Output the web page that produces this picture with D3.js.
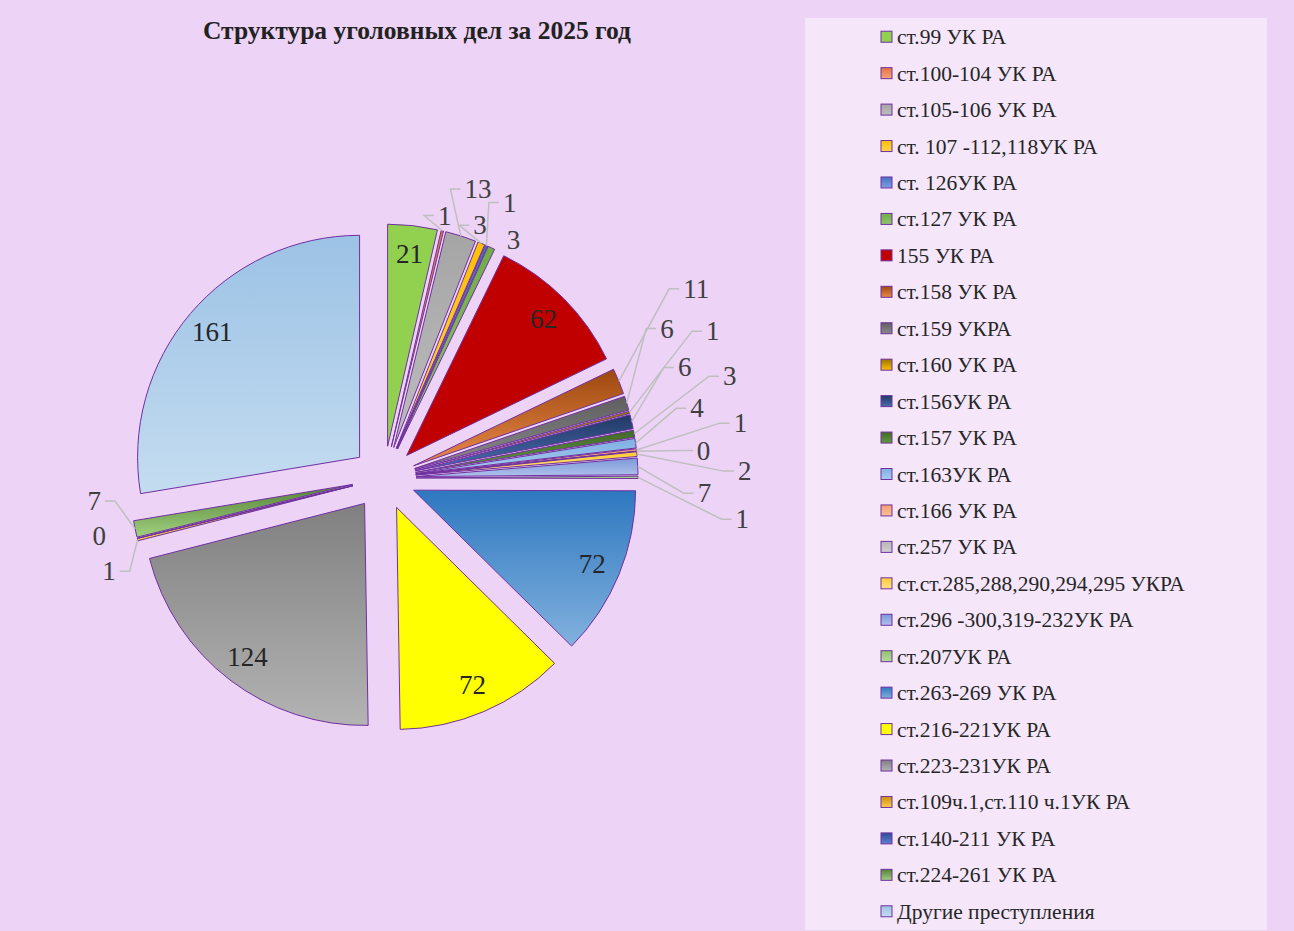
<!DOCTYPE html>
<html>
<head>
  <meta charset="utf-8">
  <title></title>
  <script src="https://d3js.org/d3.v7.min.js"></script>
  <style>
    body {
      margin: 0;
      background-color: #edd3f6;
    }
    text {
      font-family: 'Liberation Serif', 'Times New Roman', serif;
    }
  </style>
</head>
<body>
<div id="chart"></div>
<script>

  var chartTitle = 'Структура уголовных дел за 2025 год';

  var categories = [
    'ст.99 УК РА', 'ст.100-104 УК РА', 'ст.105-106 УК РА', 'ст. 107 -112,118УК РА',
    'ст. 126УК РА', 'ст.127 УК РА', '155 УК РА', 'ст.158 УК РА', 'ст.159 УКРА',
    'ст.160 УК РА', 'ст.156УК РА', 'ст.157 УК РА', 'ст.163УК РА', 'ст.166 УК РА',
    'ст.257 УК РА', 'ст.ст.285,288,290,294,295 УКРА', 'ст.296 -300,319-232УК РА',
    'ст.207УК РА', 'ст.263-269 УК РА', 'ст.216-221УК РА', 'ст.223-231УК РА',
    'ст.109ч.1,ст.110 ч.1УК РА', 'ст.140-211 УК РА', 'ст.224-261 УК РА', 'Другие преступления'
  ];

  var counts = [21, 1, 13, 3, 1, 3, 62, 11, 6, 1, 6, 3, 4, 1, 0, 2, 7, 1, 72, 72, 124, 1, 0, 7, 161];

  // gradient stops per series (top -> bottom)
  var colorTop = [
    '#92d050', '#e8733f', '#a5a5a5', '#ffc000', '#4472c4', '#70ad47', '#c00000', '#9e480e',
    '#5f5f5f', '#997300', '#203864', '#43682b', '#7fb1e3', '#f4a06c', '#b7b7b7', '#ffcd33',
    '#7b98d8', '#8fc46a', '#2e78c0', '#ffff00', '#808080', '#c9900a', '#2f4b9a', '#548235', '#9cc2e5'
  ];
  var colorBottom = [
    '#92d050', '#f4a27a', '#bdbdbd', '#ffd34d', '#7f9fe0', '#8fc46a', '#c00000', '#e8894a',
    '#8a8a8a', '#ffc000', '#4a6db0', '#5f9a3a', '#a8cbee', '#f8c09a', '#d0d0d0', '#ffe08a',
    '#b0c2ec', '#b5da9b', '#82b1de', '#ffff00', '#b3b3b3', '#ffcb4d', '#5f7fd0', '#a0d080', '#c4dcf0'
  ];

  var width = 1294, height = 931;
  var cx = 384, cy = 478;
  var radius = 222, explode = 32;

  var svg = d3.select('#chart').append('svg')
    .attr('width', width)
    .attr('height', height)
    .style('display', 'block');

  var defs = svg.append('defs');
  categories.forEach(function(c, i) {
    var g = defs.append('linearGradient')
      .attr('id', 'grad' + i)
      .attr('x1', 0).attr('y1', 0).attr('x2', 0).attr('y2', 1);
    g.append('stop').attr('offset', '0%').attr('stop-color', colorTop[i]);
    g.append('stop').attr('offset', '100%').attr('stop-color', colorBottom[i]);
  });

  // title
  svg.append('text')
    .attr('x', 417)
    .attr('y', 39)
    .attr('text-anchor', 'middle')
    .style('font-size', '25.5px')
    .style('font-weight', 'bold')
    .style('fill', '#222')
    .text(chartTitle);

  // pie
  var total = d3.sum(counts);
  var pie = d3.pie().value(function(d) { return d; }).sort(null);
  var arcs = pie(counts);
  var arc = d3.arc().innerRadius(0).outerRadius(radius);

  arcs.forEach(function(a) {
    a.mid = (a.startAngle + a.endAngle) / 2;
    a.outside = a.value / total < 0.025;
  });

  var slices = svg.append('g').attr('transform', 'translate(' + cx + ',' + cy + ')');

  slices.selectAll('path')
    .data(arcs)
    .enter().append('path')
    .attr('transform', function(d) {
      return 'translate(' + (explode * Math.sin(d.mid)) + ',' + (-explode * Math.cos(d.mid)) + ')';
    })
    .attr('d', arc)
    .attr('fill', function(d, i) { return 'url(#grad' + i + ')'; })
    .attr('stroke', '#7030a0')
    .attr('stroke-width', 1);

  // inside labels
  var inner = d3.arc().innerRadius(radius * 0.87).outerRadius(radius * 0.87);
  slices.selectAll('text.inside')
    .data(arcs.filter(function(d) { return !d.outside; }))
    .enter().append('text')
    .attr('class', 'inside')
    .attr('transform', function(d) {
      var c = inner.centroid(d);
      return 'translate(' + (c[0] + explode * Math.sin(d.mid)) + ',' + (c[1] - explode * Math.cos(d.mid)) + ')';
    })
    .attr('text-anchor', 'middle')
    .attr('dominant-baseline', 'central')
    .style('font-size', '27px')
    .style('fill', '#262626')
    .text(function(d) { return d.value; });

  // outside labels: group neighbouring small slices and fan them out
  var clusters = [];
  arcs.forEach(function(a) {
    if (!a.outside) return;
    var last = clusters[clusters.length - 1];
    if (last && last[last.length - 1].index === a.index - 1) last.push(a);
    else clusters.push([a]);
  });

  var edge = radius + explode;
  clusters.forEach(function(cl) {
    var n = cl.length;
    var centre = (cl[0].startAngle + cl[n - 1].endAngle) / 2;
    var stagger = n > 3;
    var big = n > 6;
    var base = edge + (big ? 60 : 14);
    var step = stagger ? 3.9 * Math.PI / 180 : 36 / (base + 16);
    cl.forEach(function(a, k) {
      a.labelAngle = centre + (k - (n - 1) / 2) * step;
      if (!stagger) a.labelR = base + 16;
      else if (big) a.labelR = base + ((n - 1 - k) % 2 ? 0 : 40);
      else a.labelR = base + (k % 2 ? 32 : 0);
    });
  });

  var outer = arcs.filter(function(d) { return d.outside; });
  outer.forEach(function(a) {
    a.ex = edge * Math.sin(a.mid);
    a.ey = -edge * Math.cos(a.mid);
    a.px = a.labelR * Math.sin(a.labelAngle);
    a.py = -a.labelR * Math.cos(a.labelAngle);
    a.side = Math.sin(a.labelAngle) >= 0 ? 1 : -1;
    a.kx = a.px - a.side * 14;
  });

  slices.selectAll('polyline')
    .data(outer.filter(function(a) {
      return Math.hypot(a.kx - a.ex, a.py - a.ey) > 20;
    }))
    .enter().append('polyline')
    .attr('points', function(a) {
      return [[a.ex, a.ey], [a.kx, a.py], [a.px - a.side * 4, a.py]].join(' ');
    })
    .attr('fill', 'none')
    .attr('stroke', '#bfbfbf')
    .attr('stroke-width', 1.5);

  slices.selectAll('text.outside')
    .data(outer)
    .enter().append('text')
    .attr('class', 'outside')
    .attr('x', function(a) { return a.px; })
    .attr('y', function(a) { return a.py; })
    .attr('text-anchor', function(a) { return a.side > 0 ? 'start' : 'end'; })
    .attr('dominant-baseline', 'central')
    .style('font-size', '27px')
    .style('fill', '#404040')
    .text(function(a) { return a.value; });

  // legend
  svg.append('rect')
    .attr('x', 805)
    .attr('y', 18)
    .attr('width', 462)
    .attr('height', 912)
    .attr('fill', '#f5e6fa');

  var rowScale = d3.scaleBand()
    .domain(categories)
    .range([19, 930]);

  var item = svg.append('g').selectAll('g')
    .data(categories)
    .enter().append('g')
    .attr('transform', function(d) {
      return 'translate(881,' + (rowScale(d) + rowScale.bandwidth() / 2) + ')';
    });

  item.append('rect')
    .attr('x', 0)
    .attr('y', -6)
    .attr('width', 11)
    .attr('height', 11)
    .attr('fill', function(d, i) { return 'url(#grad' + i + ')'; })
    .attr('stroke', '#7030a0')
    .attr('stroke-width', 1);

  item.append('text')
    .attr('x', 16)
    .attr('y', 0)
    .attr('dominant-baseline', 'central')
    .style('font-size', '21.5px')
    .style('fill', '#262626')
    .text(function(d) { return d; });

</script>
</body>
</html>
